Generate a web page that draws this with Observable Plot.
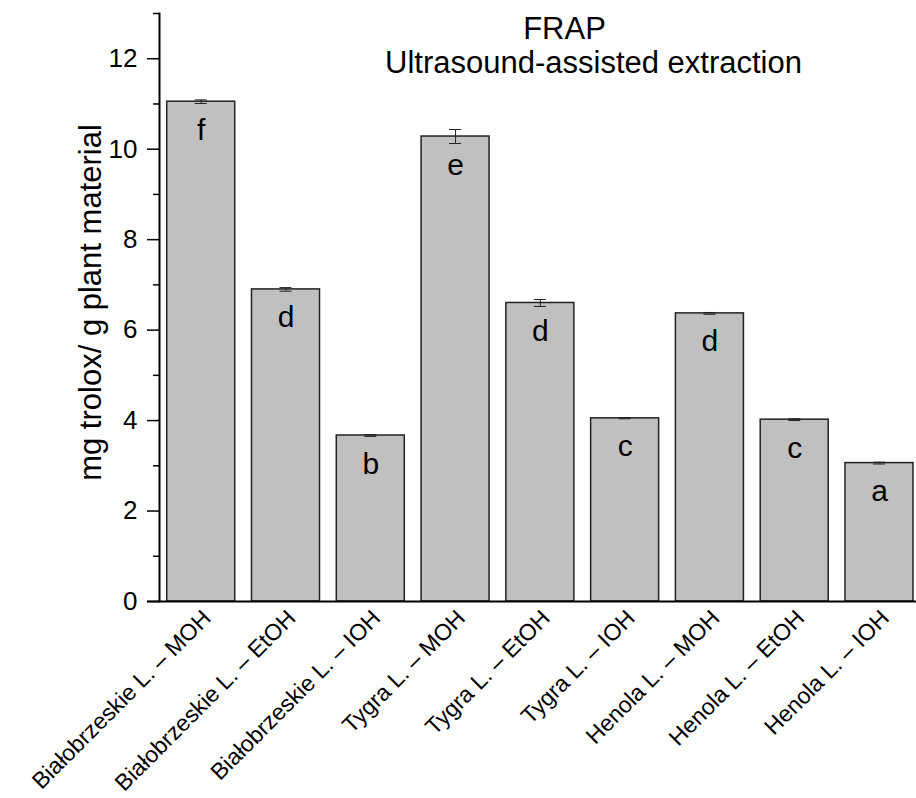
<!DOCTYPE html>
<html>
<head>
<meta charset="utf-8">
<script src="https://cdn.jsdelivr.net/npm/d3@7"></script>
<script src="https://cdn.jsdelivr.net/npm/@observablehq/plot@0.6"></script>
<style>
  html, body { margin: 0; padding: 0; background: #fff; }
  #chart svg { display: block; }
</style>
</head>
<body>
<div id="chart"></div>
<script>
const categories = [
  "Białobrzeskie L. – MOH", "Białobrzeskie L. – EtOH", "Białobrzeskie L. – IOH",
  "Tygra L. – MOH", "Tygra L. – EtOH", "Tygra L. – IOH",
  "Henola L. – MOH", "Henola L. – EtOH", "Henola L. – IOH"
];
const values = [11.05, 6.90, 3.67, 10.28, 6.60, 4.05, 6.37, 4.02, 3.06];
const errors = [0.04, 0.04, 0.02, 0.155, 0.077, 0.01, 0.02, 0.02, 0.02];
const letters = ["f", "d", "b", "e", "d", "c", "d", "c", "a"];
const majorTicks = [0, 2, 4, 6, 8, 10, 12];
const minorTicks = [1, 3, 5, 7, 9, 11, 13];
const titleLine1 = "FRAP";
const titleLine2 = "Ultrasound-assisted extraction";
const yLabel = "mg trolox/ g plant material";

const data = categories.map((c, i) => ({
  cat: c, v: values[i], e: errors[i], lo: values[i] - errors[i], hi: values[i] + errors[i], letter: letters[i]
}));

const font = "'Liberation Sans', Arial, Helvetica, sans-serif";

const chart = Plot.plot({
  width: 916,
  height: 798,
  marginLeft: 159,
  marginRight: 0,
  marginTop: 13,
  marginBottom: 197,
  style: { fontFamily: font, background: "#fff", color: "#000" },
  x: { type: "band", domain: categories, range: [159, 920.7], paddingInner: 0.198, paddingOuter: 0.091, round: false, axis: null },
  y: { domain: [0, 13], axis: null },
  marks: [
    Plot.barY(data, { x: "cat", y: "v", fill: "#c0c0c0", stroke: "#222", strokeWidth: 1.5 }),
    Plot.ruleX(data, { x: "cat", y1: "lo", y2: "hi", stroke: "#222", strokeWidth: 1 }),
    Plot.tickY(data, { x: "cat", y: "lo", stroke: "#222", strokeWidth: 1, insetLeft: 28, insetRight: 28 }),
    Plot.tickY(data, { x: "cat", y: "hi", stroke: "#222", strokeWidth: 1, insetLeft: 28, insetRight: 28 }),
    Plot.text(data, { x: "cat", y: "v", text: "letter", dy: 38, lineAnchor: "bottom", fontSize: 30, fill: "#000" }),
    Plot.axisY({ ticks: majorTicks, tickSize: 12, tickPadding: 10, fontSize: 26, strokeWidth: 1.5, label: null, tickFormat: d => String(d) }),
    Plot.axisY({ ticks: minorTicks, tickSize: 6, strokeWidth: 1.5, label: null, tickFormat: () => "" }),
    Plot.frame({ anchor: "left", strokeWidth: 2 }),
    Plot.ruleY([0], { strokeWidth: 2, insetLeft: -12 }),
    Plot.text(categories, { x: d => d, frameAnchor: "bottom", dx: 11, dy: 18, rotate: -45, textAnchor: "end", lineAnchor: "bottom", fontSize: 23, fill: "#000" }),
    Plot.text([yLabel], { frameAnchor: "left", dx: -59, dy: -5, rotate: -90, textAnchor: "middle", lineAnchor: "bottom", fontSize: 31, fill: "#000" }),
    Plot.text([titleLine1], { frameAnchor: "top-left", dx: 564 - 159, dy: 38 - 13, lineAnchor: "bottom", textAnchor: "middle", fontSize: 31, fill: "#000" }),
    Plot.text([titleLine2], { frameAnchor: "top-left", dx: 593 - 159, dy: 72 - 13, lineAnchor: "bottom", textAnchor: "middle", fontSize: 31, fill: "#000" })
  ]
});
document.getElementById("chart").appendChild(chart);
</script>
</body>
</html>
